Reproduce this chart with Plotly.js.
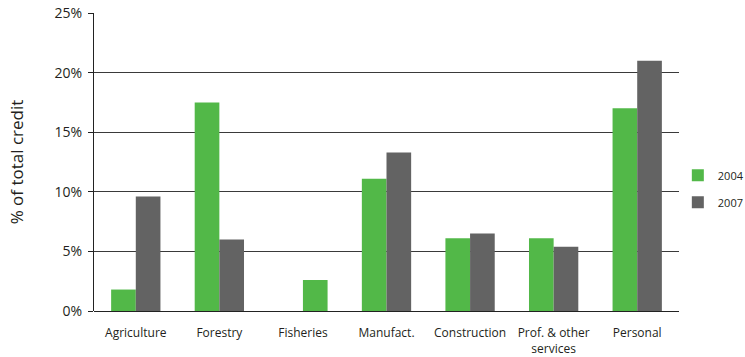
<!DOCTYPE html>
<html>
<head>
<meta charset="utf-8">
<script src="https://cdn.plot.ly/plotly-3.0.1.min.js"></script>
<style>
  html, body { margin: 0; padding: 0; background: #fff; }
  #chart { width: 745px; height: 357px; }
</style>
</head>
<body>
<div id="chart"></div>
<script>
// Sector shares of total credit, in percent
const sectors = ["Agriculture", "Forestry", "Fisheries", "Manufact.", "Construction", "Prof. & other<br>services", "Personal"];
const share2004 = [1.8, 17.5, 2.6, 11.1, 6.1, 6.1, 17.0];
const share2007 = [9.6, 6.0, null, 13.3, 6.5, 5.4, 21.0];
const yTickVals = [0, 5, 10, 15, 20, 25];
const yTickText = ["0%", "5%", "10%", "15%", "20%", "25%"];

const FONT = "Open Sans, DejaVu Sans, sans-serif";
const TEXT = "#231f20";

// Paired bars sit side by side around each category; where a sector has
// only one year the lone bar is drawn in the right-hand slot.
const BAR_W = 0.295;
const offsets2004 = sectors.map((_, i) => share2007[i] == null ? 0 : -BAR_W);

const traces = [
  { type: "bar", name: "2004", x: sectors, y: share2004, legendgroup: "a",
    width: BAR_W, offset: offsets2004,
    marker: { color: "#52b848" }, hoverinfo: "skip" },
  { type: "bar", name: "2007", x: sectors, y: share2007, legendgroup: "b",
    width: BAR_W, offset: 0,
    marker: { color: "#636363" }, hoverinfo: "skip" }
];

const layout = {
  width: 745, height: 357,
  margin: { l: 94, r: 66, t: 13, b: 46, autoexpand: false },
  paper_bgcolor: "#fff", plot_bgcolor: "#fff",
  font: { family: FONT, color: TEXT },
  barmode: "overlay",
  xaxis: {
    showgrid: false, zeroline: false, showline: false, ticks: "",
    tickfont: { size: 12, color: TEXT }, ticklabelstandoff: 13
  },
  yaxis: {
    range: [0, 25], tickvals: yTickVals, ticktext: yTickText,
    showgrid: true, gridcolor: "#3a3a3a", gridwidth: 1,
    zeroline: true, zerolinecolor: "#222", zerolinewidth: 1,
    showline: true, linecolor: "#222", linewidth: 1,
    ticks: "outside", ticklen: 5, tickcolor: "#222",
    tickfont: { size: 14, color: TEXT }, ticklabelstandoff: 3,
    title: { text: "% of total credit", font: { size: 17, color: TEXT }, standoff: 26 }
  },
  legend: {
    x: 0.998, xanchor: "left", y: 0.41, yanchor: "middle", xref: "paper",
    font: { size: 11, color: TEXT }, traceorder: "grouped", tracegroupgap: 8,
    itemwidth: 30, bgcolor: "rgba(0,0,0,0)"
  },
  showlegend: true
};

Plotly.newPlot("chart", traces, layout, { staticPlot: true, displayModeBar: false });
</script>
</body>
</html>
